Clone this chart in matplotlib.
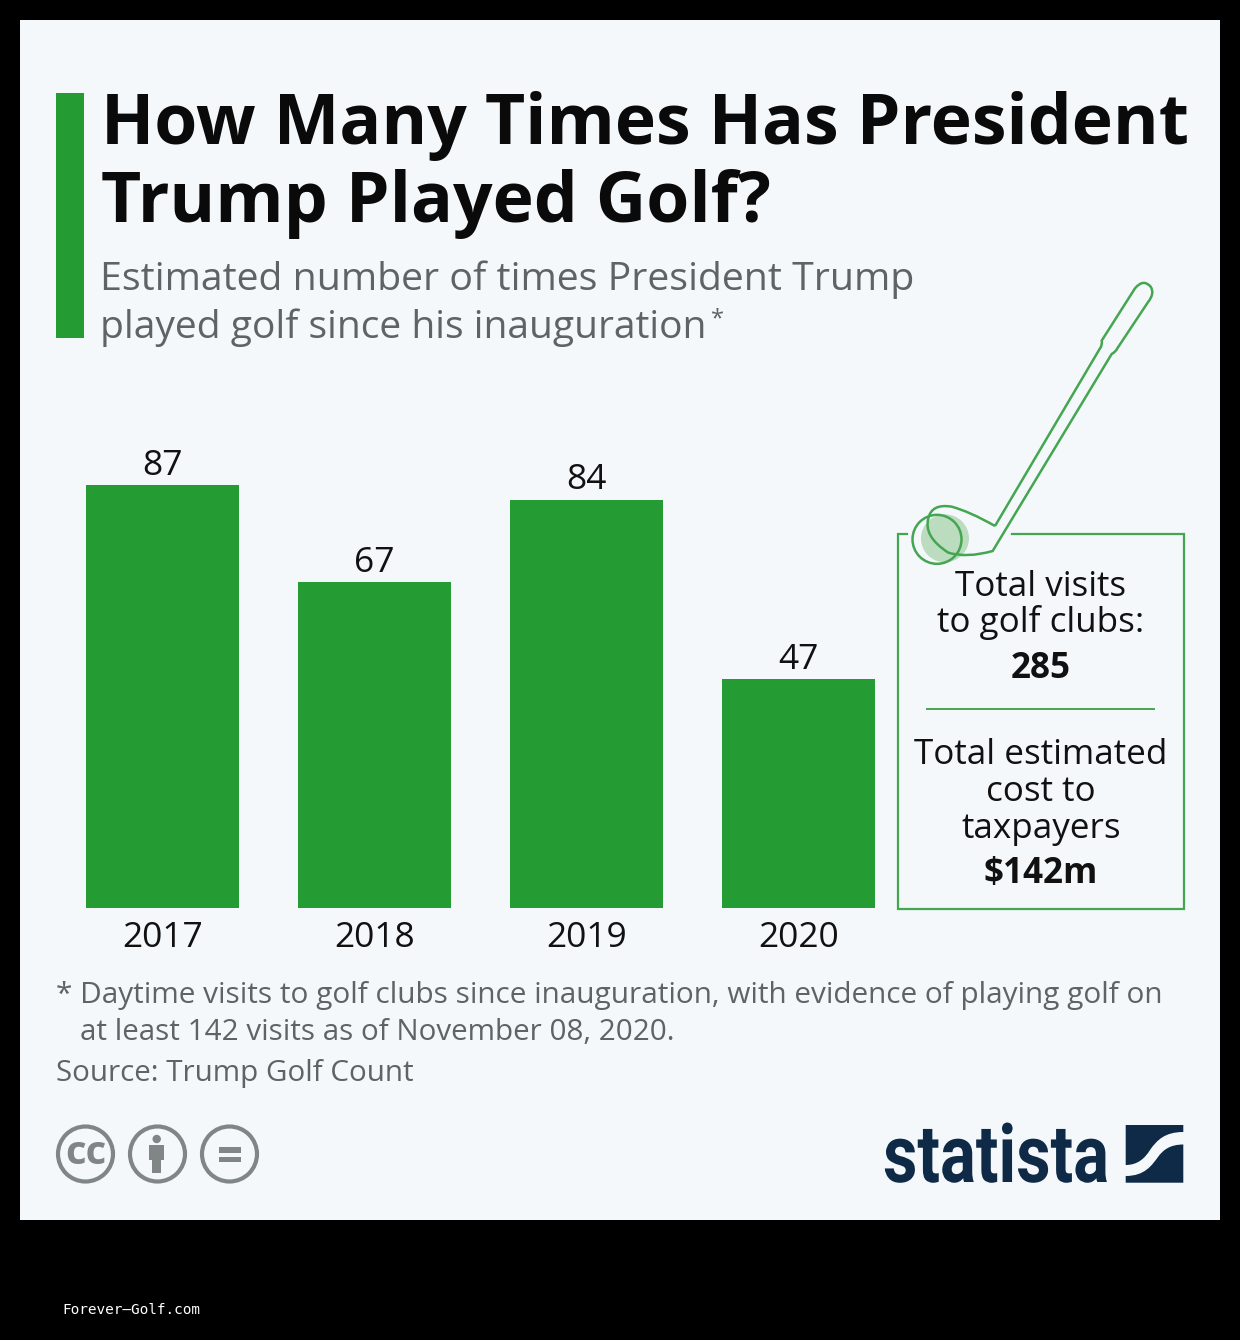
import numpy as np, matplotlib
matplotlib.use("Agg")
import matplotlib.pyplot as plt
import matplotlib.patheffects as pe
from matplotlib.patches import Circle, PathPatch, Polygon, Rectangle
from matplotlib.path import Path
from matplotlib.transforms import Affine2D

years = ["2017", "2018", "2019", "2020"]
rounds = [87, 67, 84, 47]

title_lines = ["How Many Times Has President", "Trump Played Golf?"]
subtitle_lines = ["Estimated number of times President Trump", "played golf since his inauguration"]
note_lines = ["* Daytime visits to golf clubs since inauguration, with evidence of playing golf on",
              "at least 142 visits as of November 08, 2020."]
source = "Source: Trump Golf Count"

GREEN = "#259b33"
LINE = "#45a652"
BG = "#f4f8fb"
GREY = "#5e6367"
NAVY = "#0f2a46"
ICON = "#808685"
W, H = 1240, 1340

plt.rcParams["font.family"] = ["Open Sans", "DejaVu Sans"]
fig = plt.figure(figsize=(W / 100, H / 100), dpi=100, facecolor="black")


class Squeeze(pe.AbstractPathEffect):
    # narrow a text horizontally, no condensed heavy font is installed
    def __init__(self, sx, x0):
        self.sx, self.x0 = sx, x0

    def draw_path(self, renderer, gc, tpath, affine, rgbFace=None):
        squeeze = Affine2D().translate(-self.x0, 0).scale(self.sx, 1).translate(self.x0, 0)
        renderer.draw_path(gc, tpath, affine + squeeze, rgbFace)


# overlay in pixel coords for everything that is not the bars
ov = fig.add_axes([0, 0, 1, 1])
ov.set_xlim(0, W); ov.set_ylim(H, 0); ov.axis("off")
ov.add_patch(Rectangle((20, 20), 1200, 1200, fc=BG, ec="none"))
ov.add_patch(Rectangle((56, 93), 28, 245, fc=GREEN, ec="none"))

for y, s in zip([126, 204], title_lines):
    ov.text(101, y, s, fontsize=50.15, fontweight="bold", color="#0a0a0a", va="center", ha="left")
ov.text(100, 280, subtitle_lines[0], fontsize=28.27, color=GREY, va="center", ha="left")
ov.text(100, 328, subtitle_lines[1], fontsize=28.1, color=GREY, va="center", ha="left")
ov.text(711, 319, "*", fontsize=17, color=GREY, va="center", ha="left")

ov.text(56, 996, note_lines[0], fontsize=21.42, color=GREY, va="center", ha="left")
ov.text(80, 1032, note_lines[1], fontsize=21.35, color=GREY, va="center", ha="left")
ov.text(56, 1074, source, fontsize=21.3, color=GREY, va="center", ha="left")
ov.text(62, 1310, "Forever—Golf.com", fontsize=10.4, family="DejaVu Sans Mono", color="white", va="center", ha="left")

# side box with a gap in the top edge for the club
ov.plot([907, 898, 898, 1184, 1184, 1012], [534, 534, 909, 909, 534, 534], color=LINE, lw=1.6, solid_joinstyle="miter")
ov.plot([927, 1154], [709, 709], color=LINE, lw=1.4)
box_text = [(587, "Total visits", "normal"), (623, "to golf clubs:", "normal"), (669, "285", "bold"),
            (755, "Total estimated", "normal"), (792, "cost to", "normal"), (829, "taxpayers", "normal"),
            (874, "$142m", "bold")]
for y, s, w in box_text:
    ov.text(1041, y, s.replace("$", r"\$"), fontsize=25.2, fontweight=w, color="#111111", va="center", ha="center")

# golf club, points taken from a 3x crop at (880, 270)
def zp(x, y):
    return (880 + x / 3, 270 + y / 3)

ov.add_patch(Circle(zp(195, 805), 24, fc="#bcdcc0", ec="none"))
M, L, C = Path.MOVETO, Path.LINETO, Path.CURVE3
club = [(M, 345, 768), (L, 660, 235), (C, 668, 225), (L, 665, 212), (L, 765, 55),
        (C, 790, 25), (L, 812, 50), (C, 825, 70), (L, 805, 95), (L, 712, 235), (C, 708, 245), (L, 695, 252),
        (L, 370, 790), (L, 338, 843), (C, 260, 865), (L, 205, 848), (C, 130, 800), (L, 145, 745),
        (C, 155, 700), (L, 215, 710), (C, 270, 725), (L, 345, 768)]
ov.add_patch(PathPatch(Path([zp(x, y) for _, x, y in club], [c for c, _, _ in club]), fc="none", ec=LINE, lw=1.8))
ov.add_patch(Circle(zp(171, 808), 24.5, fc="none", ec=LINE, lw=1.8))

# licence icons
for cx in [85.5, 157.5, 229.5]:
    ov.add_patch(Circle((cx, 1154), 27.5, fc="none", ec=ICON, lw=3.0))
ov.text(85.5, 1153, "cc", fontsize=29, fontweight="bold", color=ICON, va="center", ha="center")
ov.add_patch(Circle((156.7, 1139), 4.2, fc=ICON, ec="none"))
ov.add_patch(Polygon([(149.3, 1144.5), (164, 1144.5), (164, 1160), (161, 1160), (161, 1173), (152.3, 1173), (152.3, 1160), (149.3, 1160)], fc=ICON, ec="none"))
ov.add_patch(Rectangle((219, 1147.3), 22, 5.4, fc=ICON, ec="none"))
ov.add_patch(Rectangle((219, 1156.8), 22, 5.4, fc=ICON, ec="none"))

# statista logo
ov.text(883, 1182, "statista", fontsize=58, fontweight="bold", family=["Roboto", "DejaVu Sans"], color=NAVY, va="baseline", ha="left",
        path_effects=[Squeeze(0.83, 883)])
C4 = Path.CURVE4
upper = [(M, 1125.7, 1125), (L, 1183.3, 1125), (L, 1183.3, 1132), (C4, 1165, 1132), (C4, 1157, 1140), (C4, 1150, 1150),
         (C4, 1145, 1158), (C4, 1138, 1165), (C4, 1125.7, 1165), (L, 1125.7, 1125)]
lower = [(M, 1183.3, 1144.5), (L, 1183.3, 1182.7), (L, 1125.7, 1182.7), (L, 1125.7, 1176), (C4, 1145, 1176), (C4, 1152, 1165), (C4, 1158, 1157),
         (C4, 1163, 1150), (C4, 1170, 1144.5), (C4, 1183.3, 1144.5)]
for part in [upper, lower]:
    ov.add_patch(PathPatch(Path([(x, y) for _, x, y in part], [c for c, _, _ in part]), fc=NAVY, ec="none"))

# bars: baseline y=908px, 212px between centres
px_per_cat = 212.0
px_per_val = 423 / 87
left, right, top, bottom = 56, 904, 440, 908
ax = fig.add_axes([left / W, 1 - bottom / H, (right - left) / W, (bottom - top) / H])
ax.patch.set_alpha(0)
ax.set_xlim((left - 162.5) / px_per_cat, (right - 162.5) / px_per_cat)
ax.set_ylim(0, (bottom - top) / px_per_val)
x = np.arange(len(years))
bars = ax.bar(x, rounds, width=152.5 / 212, color=GREEN)
ax.bar_label(bars, labels=[str(v) for v in rounds], padding=1.6, fontsize=25.5, color="#111111")
ax.set_xticks(x, years, fontsize=25.5, color="#111111")
ax.tick_params(axis="x", length=0, pad=9.7)
ax.set_yticks([])
for s in ax.spines.values():
    s.set_visible(False)

fig.savefig("out.png", dpi=100, facecolor="black")
